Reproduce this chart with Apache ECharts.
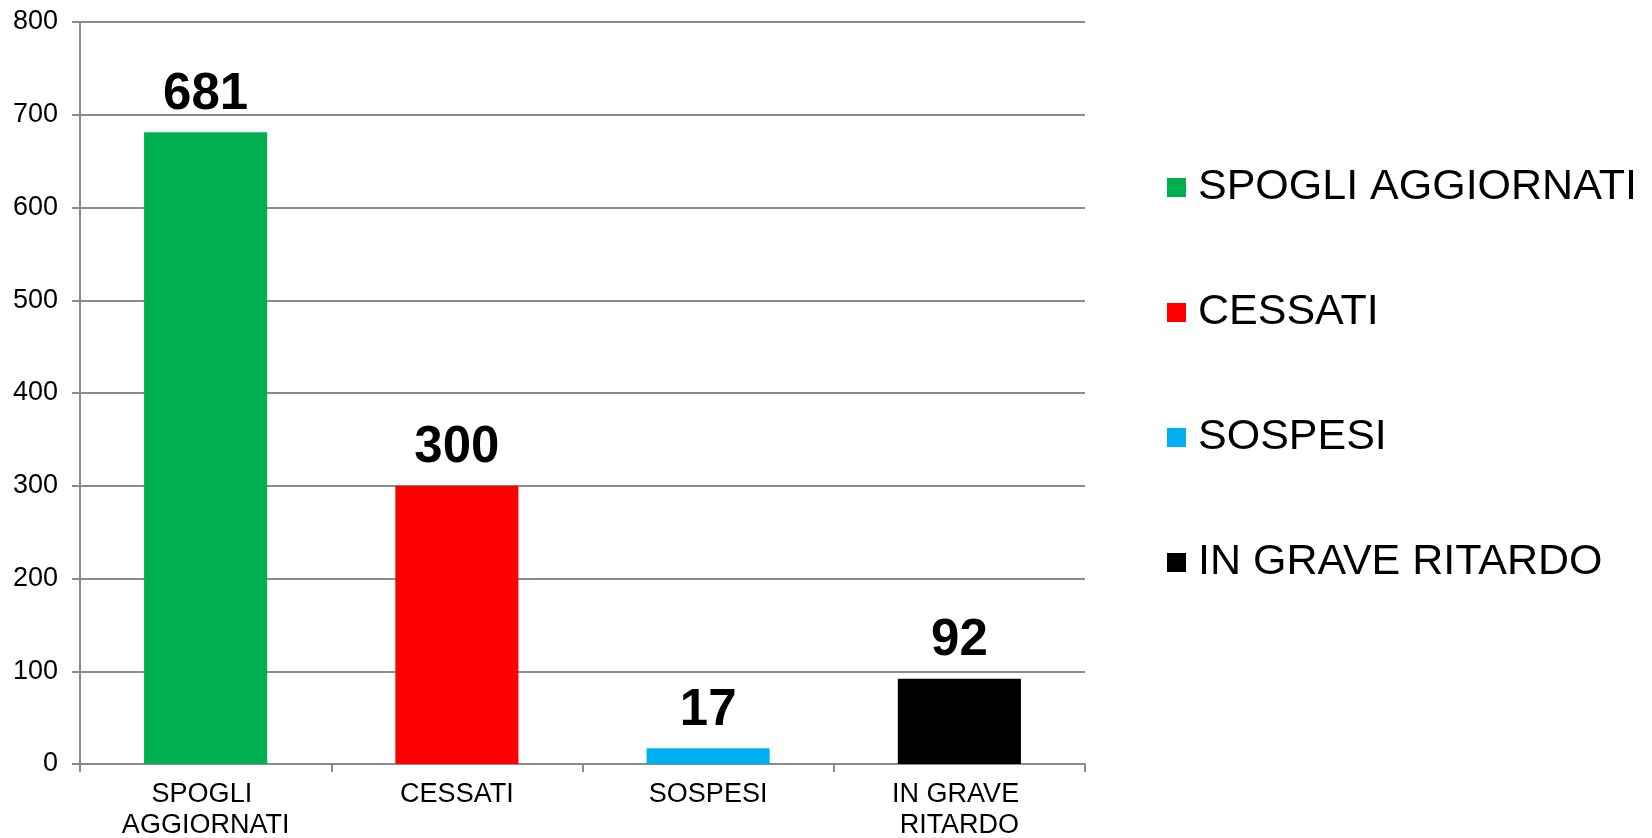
<!DOCTYPE html>
<html>
<head>
<meta charset="utf-8">
<script src="https://cdn.jsdelivr.net/npm/echarts@6/dist/echarts.min.js"></script>
<style>
html,body{margin:0;padding:0;background:#fff;}
#chart{width:1652px;height:838px;}
</style>
</head>
<body>
<div id="chart"></div>
<script>
const categories = ['SPOGLI AGGIORNATI', 'CESSATI', 'SOSPESI', 'IN GRAVE RITARDO'];
const values = [681, 300, 17, 92];
const yTicks = [0, 100, 200, 300, 400, 500, 600, 700, 800];

const colors = ['#00B050', '#FF0000', '#00B0F0', '#000000'];
const FONT = '"Liberation Sans", Arial, sans-serif';
const gray = '#8C8C8C';

const chart = echarts.init(document.getElementById('chart'));
const series = categories.map((name, i) => ({
  name: name,
  type: 'bar',
  barWidth: '49%',
  barGap: '-100%',
  itemStyle: { color: colors[i] },
  label: {
    show: true,
    position: 'top',
    distance: 12,
    color: '#000',
    fontFamily: FONT,
    fontWeight: 'bold',
    fontSize: 51
  },
  data: categories.map((c, j) => (j === i ? values[i] : null))
}));

chart.setOption({
  animation: false,
  backgroundColor: '#fff',
  grid: { left: 80, right: 567, top: 22, bottom: 74, containLabel: false, outerBoundsMode: 'none' },
  legend: {
    orient: 'vertical',
    left: 1162,
    top: 161,
    itemWidth: 19,
    itemHeight: 19,
    itemGap: 82,
    icon: 'rect',
    textStyle: { fontFamily: FONT, fontSize: 43, color: '#000', lineHeight: 43, padding: [0, 0, 0, 7] },
    data: categories
  },
  xAxis: {
    type: 'category',
    data: categories,
    axisLine: { lineStyle: { color: gray, width: 2 } },
    axisTick: { show: true, length: 8, lineStyle: { color: gray, width: 2 } },
    axisLabel: {
      color: '#000',
      fontFamily: FONT,
      fontSize: 27,
      lineHeight: 31,
      margin: 15,
      width: 200,
      overflow: 'break',
      interval: 0
    }
  },
  yAxis: {
    type: 'value',
    min: yTicks[0],
    max: yTicks[yTicks.length - 1],
    interval: yTicks[1] - yTicks[0],
    axisLine: { show: true, lineStyle: { color: gray, width: 2 } },
    axisTick: { show: true, length: 8, lineStyle: { color: gray, width: 2 } },
    splitLine: { show: true, lineStyle: { color: gray, width: 2 } },
    axisLabel: {
      color: '#000',
      fontFamily: FONT,
      fontSize: 27,
      margin: 22
    }
  },
  series: series
});
</script>
</body>
</html>
